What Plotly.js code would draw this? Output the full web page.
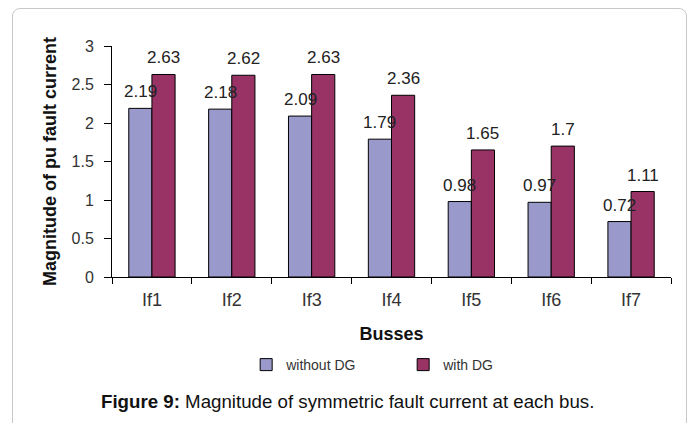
<!DOCTYPE html>
<html>
<head>
<meta charset="utf-8">
<script src="https://cdn.plot.ly/plotly-3.0.1.min.js"></script>
<style>
html,body{margin:0;padding:0;background:#fff;}
#wrap{position:relative;width:694px;height:423px;overflow:hidden;}
#frame{position:absolute;left:12px;top:8px;width:675px;height:440px;border:1px solid #c8c8c8;border-radius:8px;box-sizing:border-box;pointer-events:none;}
#chart{position:absolute;left:0;top:0;width:694px;height:423px;}
</style>
</head>
<body>
<div id="wrap">
<div id="chart"></div>
<div id="frame"></div>
</div>
<script>
var categories = ["If1","If2","If3","If4","If5","If6","If7"];
var withoutDG = [2.19, 2.18, 2.09, 1.79, 0.98, 0.97, 0.72];
var withDG = [2.63, 2.62, 2.63, 2.36, 1.65, 1.7, 1.11];
var seriesNames = ["without DG", "with DG"];
var yTicks = [0, 0.5, 1, 1.5, 2, 2.5, 3];

var FONT = "Liberation Sans, Arial, sans-serif";
var colors = ["#9999cc", "#993366"];

var traces = [withoutDG, withDG].map(function(vals, i){
  return {
    type: "bar",
    name: seriesNames[i],
    x: categories,
    y: vals,
    marker: {color: colors[i], line: {color: "#000", width: 1}},
    hoverinfo: "x+y"
  };
});

var annotations = [];
[withoutDG, withDG].forEach(function(vals, i){
  vals.forEach(function(v, j){
    annotations.push({
      x: categories[j], y: v, xref: "x", yref: "y",
      text: String(v), showarrow: false,
      xshift: i === 0 ? -11.6 : 11.6,
      yanchor: "bottom", yshift: 5,
      font: {family: FONT, size: 17, color: "#222"}
    });
  });
});
annotations.push({
  xref: "paper", yref: "paper", x: 0.422, y: -0.537,
  xanchor: "center", yanchor: "middle", showarrow: false,
  text: "<b>Figure 9:</b> Magnitude of symmetric fault current at each bus.",
  font: {family: FONT, size: 18.7, color: "#111"}
});

var layout = {
  width: 694, height: 423,
  margin: {l: 112, r: 23, t: 46, b: 146},
  paper_bgcolor: "#fff", plot_bgcolor: "#fff",
  barmode: "group", bargap: 0.42, bargroupgap: 0,
  showlegend: true,
  legend: {
    orientation: "h", x: 0.24, xanchor: "left", y: -0.381, yanchor: "middle",
    font: {family: FONT, size: 14, color: "#333"},
    entrywidth: 112, entrywidthmode: "pixels",
    itemwidth: 30
  },
  xaxis: {
    type: "category",
    showline: true, linecolor: "#000", linewidth: 1,
    ticks: "outside", tickson: "boundaries", ticklen: 6, tickcolor: "#000",
    ticklabelstandoff: 6,
    tickfont: {family: FONT, size: 18, color: "#333"},
    showgrid: false, zeroline: false,
    title: {text: "<b>Busses</b>", standoff: 18, font: {family: FONT, size: 18, color: "#111"}}
  },
  yaxis: {
    range: [0, 3], tickvals: yTicks, ticktext: yTicks.map(String),
    showline: true, linecolor: "#000", linewidth: 1,
    ticks: "outside", ticklen: 7, tickcolor: "#000",
    ticklabelstandoff: 7,
    tickfont: {family: FONT, size: 16, color: "#333"},
    showgrid: false, zeroline: false,
    title: {text: "<b>Magnitude of pu fault current</b>", standoff: 10, font: {family: FONT, size: 18, color: "#111"}}
  },
  annotations: annotations
};

Plotly.newPlot("chart", traces, layout, {displayModeBar: false, staticPlot: true});
</script>
</body>
</html>
